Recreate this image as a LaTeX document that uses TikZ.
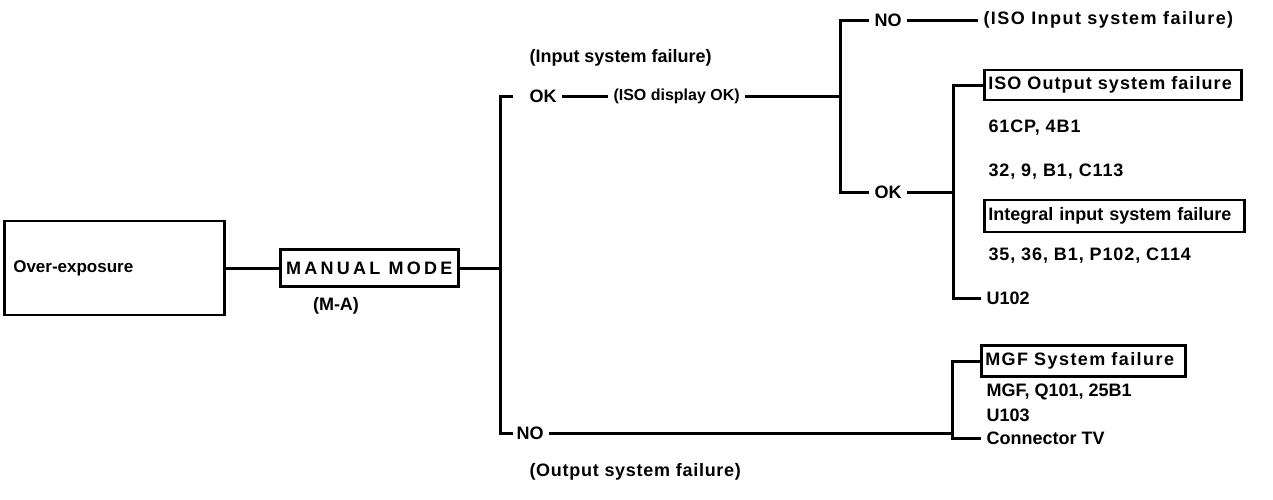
\documentclass[tikz,border=0pt]{standalone}
\usepackage{fontspec}
\setmainfont{Liberation Sans}
\newfontfamily\lsmm[LetterSpace=18]{Liberation Sans}
\newfontfamily\lsiso[LetterSpace=8]{Liberation Sans}
\newfontfamily\lsout[LetterSpace=6]{Liberation Sans}
\newfontfamily\lsmgf[LetterSpace=8]{Liberation Sans}
\newfontfamily\lsos[LetterSpace=4]{Liberation Sans}
\newfontfamily\lsnum[LetterSpace=5]{Liberation Sans}
\newcommand{\fs}[1]{\fontsize{#1}{#1}\selectfont}
\begin{document}
\begin{tikzpicture}[x=1pt,y=-1pt,
  line width=3pt,
  every node/.style={font=\bfseries\fs{18}},
  lbl/.style={inner xsep=4pt, inner ysep=2pt, anchor=west},
  num/.style={lbl, font=\lsnum\bfseries\fs{18}},
  fbox/.style={draw, line width=2.6pt, inner xsep=4pt, inner ysep=0pt, anchor=west, align=left}]
\useasboundingbox (0,0) rectangle (1273,499);
% main boxes
\node[fbox, text width=202pt, inner xsep=9pt, minimum height=94pt, font=\bfseries\fs{17}] (over) at (3,268) {Over-exposure};
\node[fbox, minimum width=178pt, minimum height=37pt, inner xsep=2pt, align=center, font=\lsmm\bfseries\fs{18}] (mm) at (279,268) {MANUAL MODE};
\node[lbl, anchor=center] (ma) at (336,306) {(M-A)};
\coordinate (j1) at (500,268);
\draw (over.east) -- (mm.west);
\draw (mm.east) -- (j1);
% upper branch
\node[lbl] (insys) at (524,58) {(Input system failure)};
\node[lbl] (ok1) at (524,96) {OK};
\node[lbl, font=\bfseries\fs{16}] (isodisp) at (608,96) {(ISO display OK)};
\coordinate (t1) at (513,96);
\draw (j1) |- (t1);
\draw (ok1) -- (isodisp);
\coordinate (j2) at (840,96);
\draw (isodisp) -- (j2);
\node[lbl] (no2) at (869,20) {NO};
\node[lbl, font=\lsiso\bfseries\fs{18}] (isoin) at (978,20) {(ISO Input system failure)};
\node[lbl] (ok2) at (869,192) {OK};
\draw (no2) -| (j2);
\draw (ok2) -| (j2);
\draw (no2) -- (isoin);
\coordinate (j3) at (953,192);
\draw (ok2) -- (j3);
\node[fbox, text width=249pt, minimum height=30pt, font=\lsout\bfseries\fs{18}] (isoout) at (983,85) {ISO Output system failure};
\node[num] (l61) at (983,128) {61CP, 4B1};
\node[num] (l32) at (983,172) {32, 9, B1, C113};
\node[fbox, text width=252pt, minimum height=32pt] (integ) at (983,216) {\mbox{Integral input system failure}};
\node[num] (l35) at (983,256) {35, 36, B1, P102, C114};
\node[lbl] (u102) at (981,298) {U102};
\draw (isoout) -| (j3);
\draw (u102) -| (j3);
% lower branch
\node[lbl] (no1) at (511,433) {NO};
\node[lbl, font=\lsos\bfseries\fs{18}] (outsys) at (524,472) {(Output system failure)};
\coordinate (t2) at (513,433);
\draw (j1) |- (t2);
\coordinate (j4) at (952,433);
\draw (no1) -- (j4);
\node[fbox, text width=196pt, minimum height=31pt, font=\lsmgf\bfseries\fs{18}] (mgf) at (980,361) {MGF System failure};
\node[lbl] (mgfq) at (981,392) {MGF, Q101, 25B1};
\node[lbl] (u103) at (981,415) {U103};
\node[lbl] (ctv) at (981,438) {Connector TV};
\draw (mgf) -| (j4);
\draw (ctv) -| (j4);
\end{tikzpicture}
\end{document}
